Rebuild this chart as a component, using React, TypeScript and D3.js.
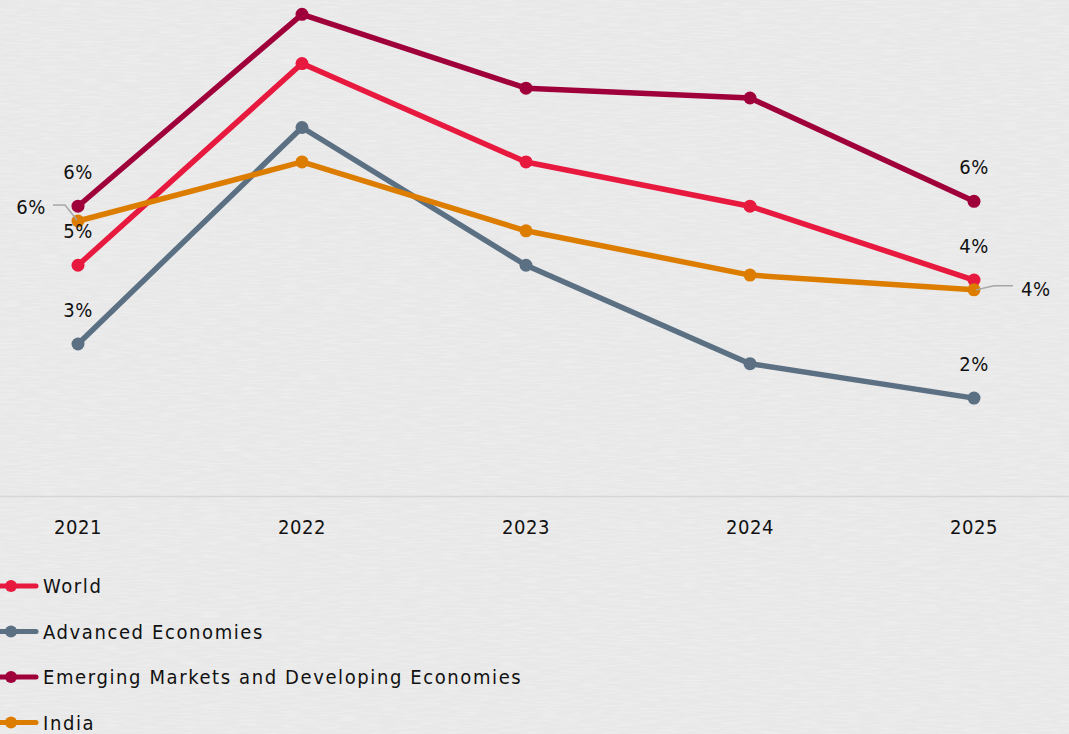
import {useEffect, useRef} from 'react'
import * as d3 from 'd3'

const years = ['2021', '2022', '2023', '2024', '2025'];
const world = [4.7, 8.8, 6.8, 5.9, 4.4];
const advanced = [3.1, 7.5, 4.7, 2.7, 2.0];
const emerging = [5.9, 9.8, 8.3, 8.1, 6.0];
const india = [5.6, 6.8, 5.4, 4.5, 4.2];

const seriesNames = ['World', 'Advanced Economies', 'Emerging Markets and Developing Economies', 'India'];
const seriesColors = ['#e8193f', '#5b7083', '#a0003a', '#dc7d00'];

const W = 1069;
const H = 734;
const FONT = '"DejaVu Sans Condensed", "DejaVu Sans", sans-serif';

const App = () => {
  const ref = useRef<SVGSVGElement>(null);

  useEffect(() => {
    if (!ref.current) return;
    const svg = d3.select(ref.current);
    svg.selectAll('*').remove();

    const allSeries = [world, advanced, emerging, india];

    //paper texture
    const defs = svg.append('defs');
    const filter = defs.append('filter').attr('id', 'paper').attr('x', 0).attr('y', 0).attr('width', '100%').attr('height', '100%');
    filter.append('feTurbulence')
      .attr('type', 'fractalNoise')
      .attr('baseFrequency', '0.05 0.6')
      .attr('numOctaves', 2)
      .attr('seed', 3)
      .attr('result', 'noise');
    filter.append('feColorMatrix')
      .attr('in', 'noise')
      .attr('type', 'matrix')
      .attr('values', '0 0 0 0 0.97  0 0 0 0 0.97  0 0 0 0 0.97  0 0 0 -1.6 0.9')
      .attr('result', 'tint');
    filter.append('feComposite').attr('in', 'tint').attr('in2', 'SourceGraphic').attr('operator', 'over');

    svg.append('rect').attr('width', W).attr('height', H).attr('fill', '#eaeaea');
    svg.append('rect').attr('width', W).attr('height', H).attr('fill', '#e7e7e7').attr('filter', 'url(#paper)').attr('opacity', 0.4);

    const x = d3.scalePoint<string>().domain(years).range([78, 974]);
    const y = d3.scaleLinear().domain([0, 10]).range([496.5, 4.5]);

    //baseline
    svg.append('line')
      .attr('x1', 0).attr('x2', W)
      .attr('y1', y(0)).attr('y2', y(0))
      .attr('stroke', '#d6d6d6').attr('stroke-width', 1.5);

    //category labels
    svg.append('g')
      .selectAll('text')
      .data(years)
      .join('text')
        .attr('x', d => (x(d) || 0))
        .attr('y', 534)
        .attr('text-anchor', 'middle')
        .attr('font-family', FONT)
        .attr('font-size', 20)
        .attr('letter-spacing', 0.6)
        .attr('fill', '#111')
        .text(d => d);

    const line = d3.line<number>()
      .x((_, i) => x(years[i]) || 0)
      .y(d => y(d));

    //lines, drawn in the order of the original stacking
    const order = [2, 0, 1, 3];
    order.forEach(k => {
      const g = svg.append('g');
      g.append('path')
        .attr('d', line(allSeries[k]))
        .attr('fill', 'none')
        .attr('stroke', seriesColors[k])
        .attr('stroke-width', 5.5)
        .attr('stroke-linejoin', 'round');
      g.selectAll('circle')
        .data(allSeries[k])
        .join('circle')
          .attr('cx', (_, i) => x(years[i]) || 0)
          .attr('cy', d => y(d))
          .attr('r', 6.5)
          .attr('fill', seriesColors[k]);
    });

    //data labels on first and last points
    const fmt = (v: number) => `${Math.round(v)}%`;
    const labels = svg.append('g')
      .attr('font-family', FONT)
      .attr('font-size', 20)
      .attr('letter-spacing', 0.6)
      .attr('fill', '#111');

    [0, 1, 2].forEach(k => {
      [0, 4].forEach(i => {
        labels.append('text')
          .attr('x', x(years[i]) || 0)
          .attr('y', y(allSeries[k][i]) - 27)
          .attr('text-anchor', 'middle')
          .text(fmt(allSeries[k][i]));
      });
    });

    //India labels sit to the side with leader lines
    const i0x = x(years[0]) || 0;
    const i0y = y(india[0]);
    labels.append('text')
      .attr('x', i0x - 32)
      .attr('y', i0y - 7)
      .attr('text-anchor', 'end')
      .text(fmt(india[0]));
    svg.append('path')
      .attr('d', `M${i0x - 25},${i0y - 16}H${i0x - 13}L${i0x - 1},${i0y - 1}`)
      .attr('fill', 'none').attr('stroke', '#a6a6a6').attr('stroke-width', 1.5);

    const i4x = x(years[4]) || 0;
    const i4y = y(india[4]);
    labels.append('text')
      .attr('x', i4x + 47)
      .attr('y', i4y + 6)
      .attr('text-anchor', 'start')
      .text(fmt(india[4]));
    svg.append('path')
      .attr('d', `M${i4x + 2},${i4y}L${i4x + 20},${i4y - 4}H${i4x + 39}`)
      .attr('fill', 'none').attr('stroke', '#a6a6a6').attr('stroke-width', 1.5);

    //legend
    const legend = svg.append('g')
      .selectAll('g')
      .data(seriesNames)
      .join('g')
        .attr('transform', (_, i) => `translate(0, ${586 + i * 45.5})`);
    legend.append('line')
      .attr('x1', 0).attr('x2', 36)
      .attr('stroke', (_, i) => seriesColors[i])
      .attr('stroke-width', 5)
      .attr('stroke-linecap', 'round');
    legend.append('circle')
      .attr('cx', 11).attr('r', 6)
      .attr('fill', (_, i) => seriesColors[i]);
    legend.append('text')
      .attr('x', 43)
      .attr('y', 7)
      .attr('font-family', FONT)
      .attr('font-size', 20)
      .attr('letter-spacing', 1.6)
      .attr('fill', '#111')
      .text(d => d);

    return () => {
      svg.selectAll('*').remove();
    }
  }, [])

  return (
    <svg
      ref={ref}
      width={W}
      height={H}
      style={{position: 'absolute', left: 0, top: 0, display: 'block'}}
    />
  )
}
export default App
